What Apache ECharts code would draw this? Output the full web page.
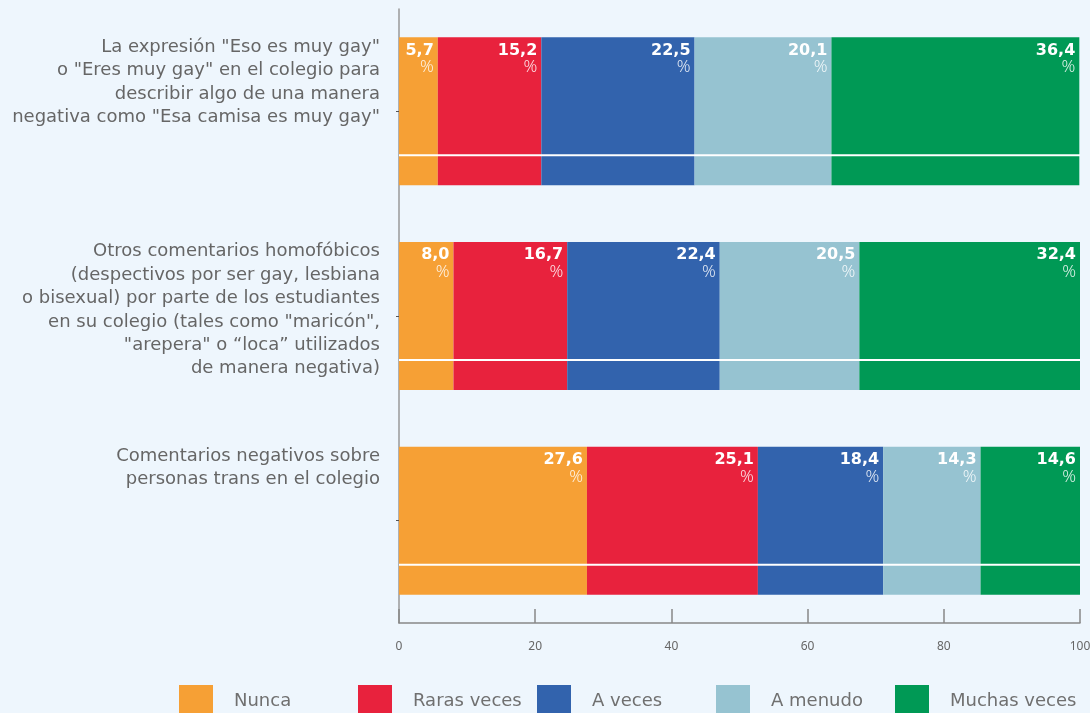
<!DOCTYPE html>
<html>
<head>
<meta charset="utf-8">
<style>
  html, body { margin: 0; padding: 0; background: #eef6fd; overflow: hidden; }
  #main { width: 1090px; height: 713px; }
</style>
</head>
<body>
<div id="main"></div>
<script src="https://cdn.jsdelivr.net/npm/echarts@6/dist/echarts.min.js"></script>
<script type="text/javascript">
    // categorias (de arriba hacia abajo)
    var categories = [
        'La expresión "Eso es muy gay"\no "Eres muy gay" en el colegio para\ndescribir algo de una manera\nnegativa como "Esa camisa es muy gay"',
        'Otros comentarios homofóbicos\n(despectivos por ser gay, lesbiana\no bisexual) por parte de los estudiantes\nen su colegio (tales como "maricón",\n"arepera" o “loca” utilizados\nde manera negativa)',
        'Comentarios negativos sobre\npersonas trans en el colegio'
    ];
    var seriesNames = ['Nunca', 'Raras veces', 'A veces', 'A menudo', 'Muchas veces'];
    var nunca = [5.7, 8.0, 27.6];
    var rarasVeces = [15.2, 16.7, 25.1];
    var aVeces = [22.5, 22.4, 18.4];
    var aMenudo = [20.1, 20.5, 14.3];
    var muchasVeces = [36.4, 32.4, 14.6];
    var xTicks = [0, 20, 40, 60, 80, 100];

    var colors = ['#f6a035', '#e8223d', '#3263ad', '#96c3d1', '#009955'];
    var values = [nunca, rarasVeces, aVeces, aMenudo, muchasVeces];

    var myChart = echarts.init(document.getElementById('main'));

    var series = values.map(function (arr, i) {
        return {
            name: seriesNames[i],
            type: 'bar',
            stack: 'total',
            data: arr,
            barCategoryGap: '27.7%',
            itemStyle: { color: colors[i] },
            label: {
                show: true,
                position: 'insideTopRight',
                distance: 4,
                formatter: function (p) {
                    return '{v|' + p.value.toFixed(1).replace('.', ',') + '}\n{p|%}';
                },
                rich: {
                    v: { color: '#fff', fontSize: 16, fontWeight: 'bold', fontFamily: 'DejaVu Sans', align: 'right', lineHeight: 18 },
                    p: { color: 'rgba(255,255,255,0.85)', fontSize: 17, fontWeight: 300, fontFamily: 'Noto Sans', align: 'right', lineHeight: 16 }
                }
            }
        };
    });

    // linea blanca dentro de cada barra
    series.push({
        type: 'custom',
        silent: true,
        z: 5,
        data: categories.map(function (c, i) { return [i]; }),
        renderItem: function (params, api) {
            var idx = api.value(0);
            var start = api.coord([0, idx]);
            var end = api.coord([100, idx]);
            var band = api.size([0, 1])[1];
            var y = start[1] + band * 0.215;
            return {
                type: 'line',
                shape: { x1: start[0], y1: y, x2: end[0], y2: y },
                style: { stroke: '#ffffff', lineWidth: 2 }
            };
        }
    });

    // una leyenda por serie, con espaciado fijo
    var legends = seriesNames.map(function (name, i) {
        return {
            data: [name],
            left: 179 + i * 179,
            top: 685,
            padding: 0,
            itemWidth: 34,
            itemHeight: 32,
            icon: 'rect',
            textStyle: {
                color: '#707070',
                fontSize: 18,
                fontFamily: 'DejaVu Sans',
                padding: [0, 0, 0, 16]
            }
        };
    });

    var option = {
        backgroundColor: '#eef6fd',
        animation: false,
        grid: { left: 399, right: 10, top: 9, bottom: 90, outerBoundsMode: 'none' },
        legend: legends,
        xAxis: {
            type: 'value',
            min: 0,
            max: 100,
            interval: 20,
            splitLine: { show: false },
            axisLine: { show: true, lineStyle: { color: '#888', width: 1.5 } },
            axisTick: { show: true, inside: true, length: 14, lineStyle: { color: '#888', width: 1.5 } },
            axisLabel: {
                color: '#666', fontSize: 12, fontFamily: 'Noto Sans', margin: 18,
                formatter: function (v) { return xTicks.indexOf(v) >= 0 ? String(v) : ''; }
            }
        },
        yAxis: {
            type: 'category',
            inverse: true,
            data: categories,
            axisLine: { show: true, lineStyle: { color: '#999', width: 1.5 } },
            axisTick: { show: true, length: 3, alignWithLabel: true, lineStyle: { color: '#555' } },
            axisLabel: {
                color: '#666',
                fontSize: 18,
                fontFamily: 'DejaVu Sans',
                lineHeight: 23.4,
                align: 'right',
                verticalAlign: 'top',
                padding: [-76, 0, 0, 0],
                margin: 19
            }
        },
        series: series
    };

    myChart.setOption(option);
</script>
</body>
</html>
